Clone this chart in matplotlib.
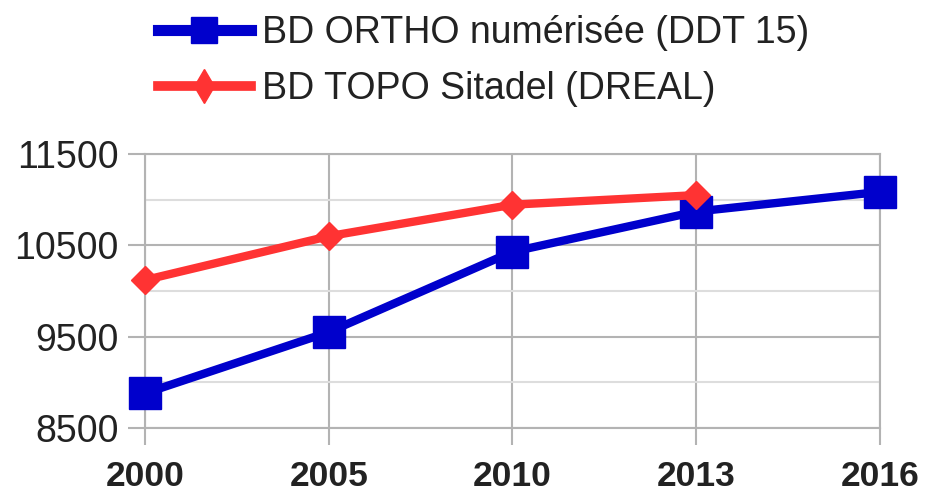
import matplotlib
matplotlib.use("Agg")
import matplotlib.pyplot as plt
from matplotlib.lines import Line2D

plt.rcParams['font.family'] = ['Liberation Sans', 'DejaVu Sans']

years = ["2000", "2005", "2010", "2013", "2016"]
ortho = [8880, 9550, 10430, 10870, 11085]
topo_years = ["2000", "2005", "2010", "2013"]
topo = [10120, 10600, 10945, 11050]

label_ortho = "BD ORTHO numérisée (DDT 15)"
label_topo = "BD TOPO Sitadel (DREAL)"

blue = "#0000cc"
red = "#ff3333"

W, H = 928, 494
fig = plt.figure(figsize=(W / 100, H / 100), dpi=100)
ax = fig.add_axes([145 / W, (H - 428) / H, (880 - 145) / W, (428 - 154) / H])

xpos = {y: i for i, y in enumerate(years)}
ax.plot([xpos[y] for y in years], ortho, color=blue, lw=6.0,
        marker="s", markersize=22.5, zorder=3, clip_on=False)
ax.plot([xpos[y] for y in topo_years], topo, color=red, lw=6.0,
        marker="D", markersize=14, zorder=4, clip_on=False)

ax.set_xlim(0, len(years) - 1)
ax.set_ylim(8500, 11500)
ax.set_xticks(range(len(years)))
ax.set_xticklabels(years, fontweight="bold", fontsize=25.5)
ax.set_yticks([8500, 9500, 10500, 11500])
ax.set_yticks([9000, 10000, 11000], minor=True)

grid_major = "#b3b3b3"
grid_minor = "#dddddd"
ax.grid(which="major", axis="both", color=grid_major, lw=1.5, zorder=0)
ax.grid(which="minor", axis="y", color=grid_minor, lw=1.5, zorder=0)
ax.set_axisbelow(True)
for s in ax.spines.values():
    s.set_color(grid_major)
    s.set_linewidth(1.5)

ax.tick_params(axis="both", which="major", direction="out", length=12,
               width=1.5, color=grid_major, labelcolor="#222222")
ax.tick_params(axis="y", which="major", labelsize=27, pad=7)
ax.tick_params(axis="x", which="major", pad=11)
ax.tick_params(axis="y", which="minor", length=0)

handles = [
    Line2D([], [], color=blue, lw=8, marker="s", markersize=19),
    Line2D([], [], color=red, lw=7, marker="d", markersize=17),
]
fig.legend(handles, [label_ortho, label_topo], loc="upper left",
           bbox_to_anchor=(158 / W, 1 - 15 / H),
           frameon=False, fontsize=27, handlelength=2.48, handletextpad=0.3,
           labelspacing=0.54, borderaxespad=0, borderpad=0, labelcolor="#222222")

fig.savefig("out.png", dpi=100)
